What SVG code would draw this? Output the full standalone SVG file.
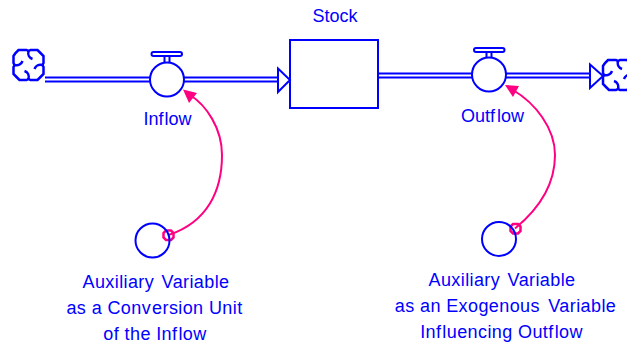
<svg xmlns="http://www.w3.org/2000/svg" width="627" height="343" viewBox="0 0 627 343">
<defs>
<style>
.b{fill:none;stroke:#0000ff;stroke-width:2}
.w{fill:#fff;stroke:#0000ff;stroke-width:2}
.c{fill:none;stroke:#0000ff;stroke-width:2.500}
.p{fill:none;stroke:#ff0080;stroke-width:2}
.o{fill:none;stroke:#ff0080;stroke-width:2.500}
.t{font-family:"Liberation Sans",Arial,sans-serif;font-size:18px;fill:#0000ff;text-anchor:middle}
.l{letter-spacing:.4px}
</style>
<g id="cloudShape">
<path class="c" d="M-10,-15 H-2 L0,-14 L2,-15 H9 L12,-12 L15,-9 V-2 L14,0 L15,2 V9 L12,12 L9,15 H2 L0,14 L-2,15 H-9 L-12,12 L-15,9 V2 L-14,0 L-15,-2 V-9 L-13,-12 Z"/>
<path class="c" d="M0,-14 C-1,-10 1,-7 4,-6 M14,0 C10,-1 7,1 6,4 M0,14 C1,10 -1,7 -4,6 M-14,0 C-10,1 -7,-1 -6,-4"/>
</g>
</defs>
<rect width="627" height="343" fill="#fff"/>
<g id="connectors">
<path class="b" d="M45,77.500H150M45,81.500H150"/>
<path class="b" d="M184,77.500H278M184,81.500H278"/>
<path class="w" d="M278,68.500L290,80L278,92Z"/>
<path class="b" d="M378,73.500H472M378,77.500H472"/>
<path class="b" d="M506,73.500H590M506,77.500H590"/>
<path class="w" d="M590,64.500L603,76L590,88Z"/>
<path class="p" d="M168.500,235 C208,222 222,190 222,155 C222,128 206,105 190,95"/>
<path d="M183,89.500L197,93L189,103Z" fill="#ff0080"/>
<path class="p" d="M515,228.500 C540,208 555,185 555,155 C555,128 535,103 513,90"/>
<path d="M505,85L519,86L513,97Z" fill="#ff0080"/>
<path class="o" d="M166,230.500H171L173.500,233V237.500L171,240H166L163.500,237.500V233Z"/>
<path class="o" d="M513,224H518L520.500,226.500V231L518,233.500H513L510.500,231V226.500Z"/>
</g>
<g id="source-cloud"><use href="#cloudShape" transform="translate(28.500,65)"/></g>
<g id="sink-cloud"><use href="#cloudShape" transform="translate(618,75)"/></g>
<g id="inflow">
<rect class="b" x="151.500" y="52" width="30.500" height="4" rx="2"/>
<path class="b" d="M164.500,56V63M169.500,56V63"/>
<circle class="b" cx="167" cy="79.500" r="17"/>
<text class="t" x="167.500" y="125">Inf<tspan dx="1">low</tspan></text>
</g>
<g id="stock">
<rect class="b" x="290" y="40" width="88" height="68"/>
<text class="t" x="335" y="22">Stock</text>
</g>
<g id="outflow">
<rect class="b" x="474" y="48" width="30.500" height="4" rx="2"/>
<path class="b" d="M486.500,52V58M491.500,52V58"/>
<circle class="b" cx="489" cy="74.500" r="17"/>
<text class="t" x="492.500" y="122">Outf<tspan dx="2">low</tspan></text>
</g>
<g id="aux-conversion">
<circle class="b" cx="152.500" cy="240.500" r="17"/>
<text class="t l" x="156" y="288">Auxiliary <tspan dx="2">Variable</tspan></text>
<text class="t l" x="154.500" y="314">as a Conv<tspan dx="1">ersion</tspan> Unit</text>
<text class="t l" x="155" y="340">of the Inf<tspan dx="1">low</tspan></text>
</g>
<g id="aux-exogenous">
<circle class="b" cx="499" cy="239" r="17"/>
<text class="t l" x="502" y="286">Auxiliary <tspan dx="2">Variable</tspan></text>
<text class="t l" x="505.500" y="312">as an Exogenous <tspan dx="3">Variable</tspan></text>
<text class="t l" x="501.500" y="338">Inf<tspan dx="1">luencing</tspan> Outf<tspan dx="1">low</tspan></text>
</g>
</svg>
